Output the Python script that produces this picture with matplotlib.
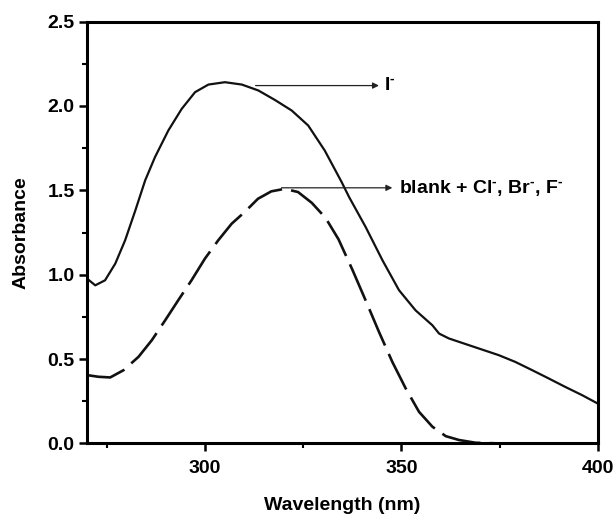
import numpy as np
import matplotlib.pyplot as plt

plt.rcParams['font.family'] = ['Liberation Sans', 'DejaVu Sans']
plt.rcParams['font.weight'] = 'bold'
plt.rcParams['mathtext.fontset'] = 'custom'
plt.rcParams['mathtext.rm'] = 'Liberation Sans:bold'
plt.rcParams['mathtext.bf'] = 'Liberation Sans:bold'
plt.rcParams['mathtext.default'] = 'bf'

# I- spectrum
wl_i = [270.0, 272.1, 274.6, 277.2, 279.7, 282.3, 284.8, 287.3, 290.7, 294.1, 297.5,
        300.9, 305.1, 309.4, 313.6, 317.8, 322.1, 326.3, 330.5, 334.8, 336.7, 340.9,
        345.2, 349.4, 353.6, 357.9, 359.6, 362.1, 368.0, 374.8, 379.0, 383.3, 387.5,
        391.7, 396.0, 400.0]
abs_i = [0.977, 0.937, 0.967, 1.066, 1.204, 1.381, 1.559, 1.697, 1.855, 1.983, 2.082,
         2.127, 2.141, 2.127, 2.092, 2.036, 1.973, 1.884, 1.736, 1.549, 1.460, 1.283,
         1.085, 0.908, 0.789, 0.700, 0.651, 0.622, 0.576, 0.523, 0.483, 0.434, 0.385,
         0.335, 0.286, 0.236]

# blank + Cl-, Br-, F-
wl_b = [270.0, 272.9, 275.9, 279.3, 283.1, 286.5, 289.9, 293.2, 296.6, 300.0, 303.4,
        306.8, 310.1, 313.5, 316.9, 320.3, 323.7, 327.2, 330.7, 334.0, 337.6, 340.9,
        344.3, 347.7, 351.1, 354.5, 357.9, 361.3, 364.7, 368.9, 374.8, 385.0, 400.0]
abs_b = [0.405, 0.395, 0.391, 0.434, 0.513, 0.612, 0.730, 0.848, 0.967, 1.095, 1.204,
         1.302, 1.371, 1.450, 1.494, 1.509, 1.490, 1.426, 1.337, 1.210, 1.026, 0.848,
         0.661, 0.483, 0.326, 0.187, 0.099, 0.043, 0.020, 0.004, 0.0, 0.0, 0.0]

fig = plt.figure(figsize=(6.14, 5.15), dpi=100)
ax = fig.add_axes([0.1417, 0.139, 0.832, 0.819])

ax.plot(wl_i, abs_i, color='#111111', lw=1.6)
ax.plot(wl_b, abs_b, color='#111111', lw=1.9, dashes=(15, 3.5))

ax.annotate('', xy=(344.3, 2.121), xytext=(312.9, 2.121),
            arrowprops=dict(arrowstyle='-|>', color='#222222', lw=0.9,
                            mutation_scale=9, shrinkA=0, shrinkB=0))
ax.text(345.6, 2.121, r'I$^{\text{-}}$', fontsize=14, va='center', ha='left')
ax.annotate('', xy=(347.7, 1.515), xytext=(319.5, 1.515),
            arrowprops=dict(arrowstyle='-|>', color='#222222', lw=0.9,
                            mutation_scale=9, shrinkA=0, shrinkB=0))
ax.text(349.4, 1.515, r'blank + Cl$^{\text{-}}$, Br$^{\text{-}}$, F$^{\text{-}}$',
        fontsize=14, va='center', ha='left')

ax.set_xlim(270, 400)
ax.set_ylim(0, 2.5)
ax.set_xticks([300, 350, 400])
ax.set_xticks([275, 325, 375], minor=True)
ax.set_yticks([0.0, 0.5, 1.0, 1.5, 2.0, 2.5])
ax.set_yticks(np.arange(0.25, 2.5, 0.5), minor=True)
ax.set_yticklabels(['0.0', '0.5', '1.0', '1.5', '2.0', '2.5'])

for s in ax.spines.values():
    s.set_linewidth(2.2)
ax.tick_params(which='major', direction='out', length=6, width=1.8, labelsize=14, pad=3)
ax.tick_params(axis='x', which='major', pad=6)
ax.tick_params(which='minor', direction='out', length=3.5, width=1.5)
ax.tick_params(top=False, right=False)

ax.set_xlabel('Wavelength (nm)', fontsize=14, fontweight='bold', labelpad=14)
ax.set_ylabel('Absorbance', fontsize=14, fontweight='bold', labelpad=13)

fig.savefig('out.png', dpi=100)
